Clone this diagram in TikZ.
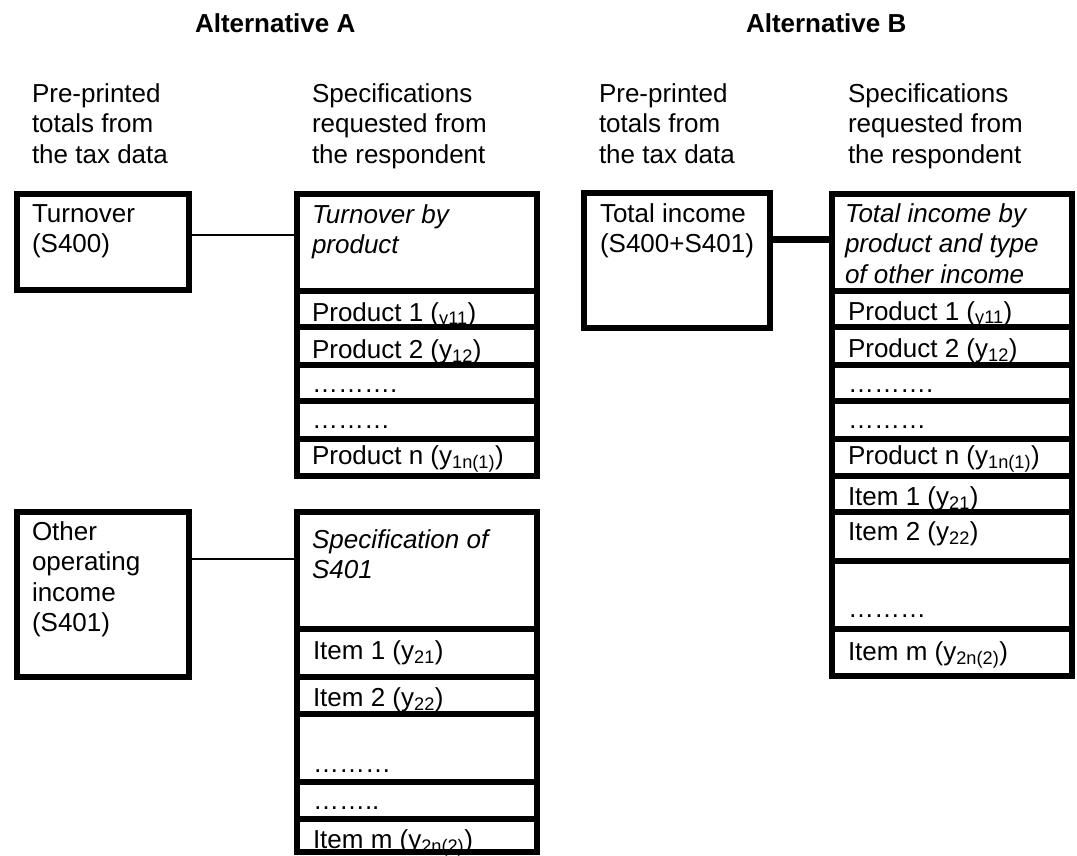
\documentclass[tikz,border=0pt]{standalone}
\usepackage{fontspec}
\setmainfont{Liberation Sans}
\usetikzlibrary{fit}
\begin{document}
\begin{tikzpicture}[x=1pt,y=-1pt,
  cell/.style={draw, line width=6pt, inner sep=0pt, outer sep=0pt},
  txt/.style={anchor=base west, inner sep=0pt, outer sep=0pt, align=left, font=\fontsize{26}{30.5}\selectfont},
  ttl/.style={txt, font=\fontsize{26}{30.5}\selectfont\bfseries},
  itx/.style={txt, font=\fontsize{26}{30.5}\selectfont\itshape},
  thinline/.style={line width=2pt},
  thickline/.style={line width=7pt}]
\useasboundingbox (0,0) rectangle (1077,855);

% titles and column headings (multi-line nodes: position = baseline of last line)
\node[ttl] (ta) at (195,32) {Alternative A};
\node[ttl] (tb) at (746,32) {Alternative B};
\node[txt] (ha1) at (32,163) {Pre-printed\\totals from\\the tax data};
\node[txt] (ha2) at (312,163) {Specifications\\requested from\\the respondent};
\node[txt] (hb1) at (599,163) {Pre-printed\\totals from\\the tax data};
\node[txt] (hb2) at (848,163) {Specifications\\requested from\\the respondent};

% ---- Alternative A, pre-printed boxes
\node[cell, fit={(17,194) (189,290)}] (turn) {};
\node[cell, fit={(17,512) (189,677)}] (other) {};

% ---- Alternative A, first specification column
\node[cell, fit={(297,194) (537,290.5)}] (ah) {};
\node[cell, fit={(297,290.5) (537,327)}] (ar1) {};
\node[cell, fit={(297,327) (537,365)}] (ar2) {};
\node[cell, fit={(297,365) (537,401)}] (ar3) {};
\node[cell, fit={(297,401) (537,439)}] (ar4) {};
\node[cell, fit={(297,439) (537,475.5)}] (ar5) {};

% ---- Alternative A, second specification column
\node[cell, fit={(297,512) (537,629)}] (sh) {};
\node[cell, fit={(297,629) (537,677)}] (sr1) {};
\node[cell, fit={(297,677) (537,714)}] (sr2) {};
\node[cell, fit={(297,714) (537,782)}] (sr3) {};
\node[cell, fit={(297,782) (537,819)}] (sr4) {};
\node[cell, fit={(297,819) (537,852)}] (sr5) {};

% ---- Alternative B
\node[cell, fit={(584,193) (770,328)}] (tot) {};
\node[cell, fit={(832,194) (1072,290.5)}] (bh) {};
\node[cell, fit={(832,290.5) (1072,327)}] (br1) {};
\node[cell, fit={(832,327) (1072,365)}] (br2) {};
\node[cell, fit={(832,365) (1072,401)}] (br3) {};
\node[cell, fit={(832,401) (1072,439)}] (br4) {};
\node[cell, fit={(832,439) (1072,475.5)}] (br5) {};
\node[cell, fit={(832,475.5) (1072,511.5)}] (br6) {};
\node[cell, fit={(832,511.5) (1072,560.5)}] (br7) {};
\node[cell, fit={(832,560.5) (1072,629)}] (br8) {};
\node[cell, fit={(832,629) (1072,676)}] (br9) {};

% connectors
\coordinate (ca) at ([yshift=-41pt]turn.north east);
\draw[thinline] (ca) -- (ca -| ah.west);
\coordinate (cs) at ([yshift=-47pt]other.north east);
\draw[thinline] (cs) -- (cs -| sh.west);
\coordinate (cb) at ([yshift=-46pt]tot.north east);
\draw[thickline] (cb) -- (cb -| bh.west);

% texts, Alternative A
\node[txt] (turnt) at (32,252.5) {Turnover\\(S400)};
\node[itx] (aht) at (312,253.5) {Turnover by\\product};
\node[txt] (ar1t) at (312,321) {Product 1 (\textsubscript{y11})};
\node[txt] (ar2t) at (312,358) {Product 2 (y\textsubscript{12})};
\node[txt] (ar3t) at (312,392) {……….};
\node[txt] (ar4t) at (312,428) {………};
\node[txt] (ar5t) at (312,464) {Product n (y\textsubscript{1n(1)})};
\node[txt] (othert) at (32,631.5) {Other\\operating\\income\\(S401)};
\node[itx] (sht) at (312,578.5) {Specification of\\S401};
\node[txt] (sr1t) at (313,659) {Item 1 (y\textsubscript{21})};
\node[txt] (sr2t) at (313,706) {Item 2 (y\textsubscript{22})};
\node[txt] (sr3t) at (313,772) {………};
\node[txt] (sr4t) at (313,809) {……..};
\node[txt] (sr5t) at (313,848) {Item m (y\textsubscript{2n(2)})};

% texts, Alternative B
\node[txt] (tott) at (600,252.5) {Total income\\(S400+S401)};
\node[itx] (bht) at (845,283) {Total income by\\product and type\\of other income};
\node[txt] (br1t) at (848,320) {Product 1 (\textsubscript{y11})};
\node[txt] (br2t) at (848,357) {Product 2 (y\textsubscript{12})};
\node[txt] (br3t) at (848,392) {……….};
\node[txt] (br4t) at (848,428) {………};
\node[txt] (br5t) at (848,464) {Product n (y\textsubscript{1n(1)})};
\node[txt] (br6t) at (848,505) {Item 1 (y\textsubscript{21})};
\node[txt] (br7t) at (848,540) {Item 2 (y\textsubscript{22})};
\node[txt] (br8t) at (848,617) {………};
\node[txt] (br9t) at (848,660) {Item m (y\textsubscript{2n(2)})};
\end{tikzpicture}
\end{document}
